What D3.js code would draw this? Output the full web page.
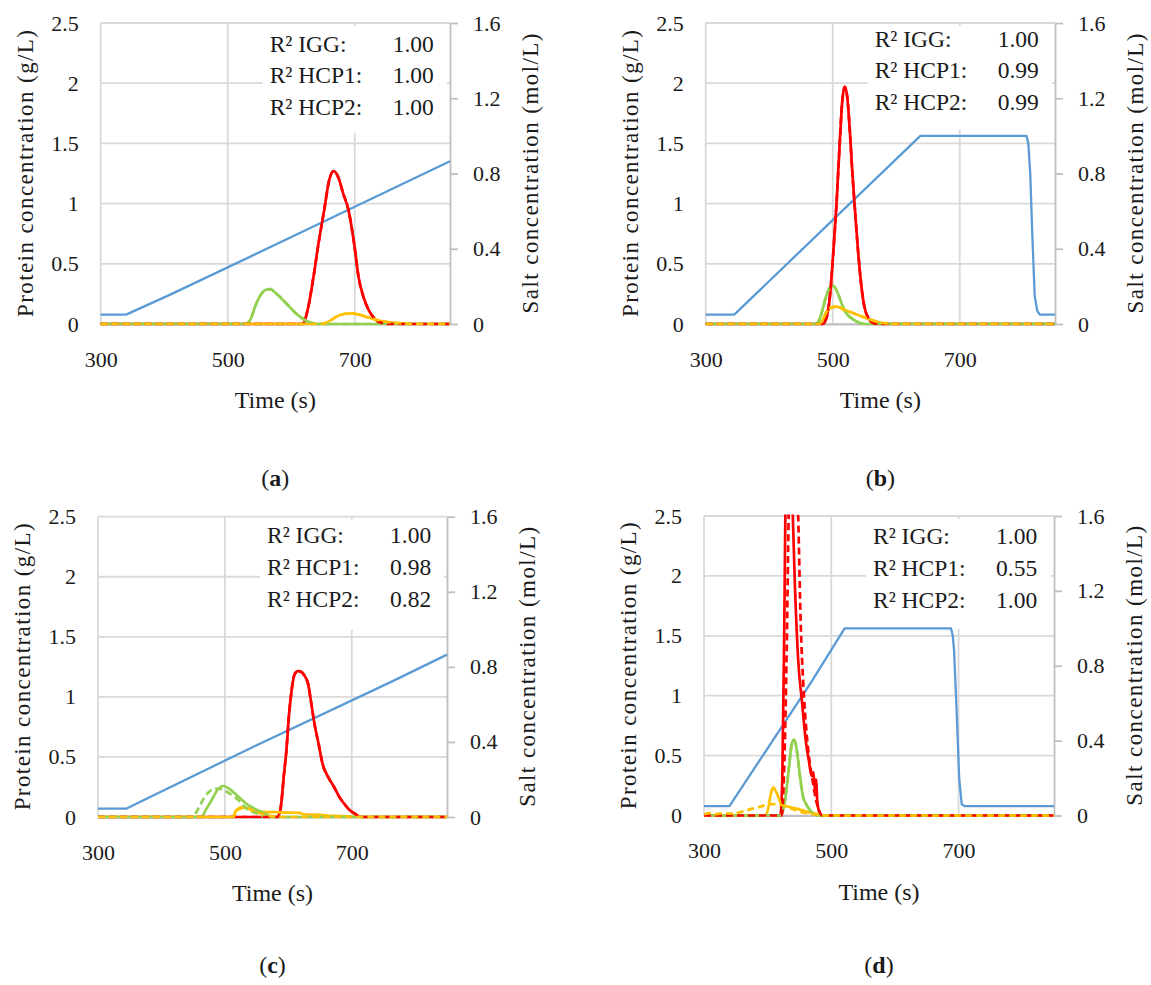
<!DOCTYPE html>
<html>
<head>
<meta charset="utf-8">
<script src="https://cdn.jsdelivr.net/npm/d3@7"></script>
<style>
  body { margin: 0; background: #fff; }
  #chart, #chart text { font-family: "Liberation Serif", "Tinos", "DejaVu Serif", serif; }
  #chart text { fill: #1a1a1a; }
</style>
</head>
<body>
<svg id="chart" width="1151" height="985" font-family="Liberation Serif, DejaVu Serif, serif"></svg>
<script>
// axes
const timeTicks = [300, 500, 700];
const proteinTicks = [0, 0.5, 1, 1.5, 2, 2.5];
const saltTicks = [0, 0.4, 0.8, 1.2, 1.6];
const r2Labels = ["R\u00b2 IGG:", "R\u00b2 HCP1:", "R\u00b2 HCP2:"];

// (a)
const r2A = ["1.00", "1.00", "1.00"];
const saltA = [[300,0.05],[340,0.05],[412,0.16],[630,0.51],[850,0.865]];
const iggA = [[300,0],[618,0],[626,0.12],[635,0.39],[643,0.67],[652,0.95],[660,1.2],[667,1.27],[674,1.22],[682,1.08],[690,0.95],[699,0.67],[706,0.39],[714,0.22],[722,0.116],[732,0.04],[742,0.01],[755,0],[850,0]];
const hcp1A = [[300,0],[528,0],[535,0.03],[545,0.17],[553,0.25],[560,0.285],[567,0.29],[575,0.26],[585,0.21],[596,0.15],[605,0.1],[614,0.06],[622,0.03],[632,0.01],[640,0],[850,0]];
const hcp2A = [[300,0],[645,0],[655,0.01],[665,0.04],[675,0.07],[685,0.085],[695,0.088],[705,0.08],[715,0.065],[725,0.048],[735,0.033],[745,0.022],[755,0.014],[770,0.007],[790,0],[850,0]];
const iggSimA = iggA, hcp1SimA = hcp1A, hcp2SimA = hcp2A;

// (b)
const r2B = ["1.00", "0.99", "0.99"];
const saltB = [[300,0.05],[345,0.05],[638,1.0],[805,1.0],[808,0.96],[811,0.8],[814,0.5],[818,0.15],[822,0.07],[826,0.05],[850,0.05]];
const iggB = [[300,0],[484,0],[490,0.05],[496,0.25],[501,0.6],[506,1.0],[511,1.5],[515,1.85],[519,1.97],[523,1.88],[527,1.6],[531,1.25],[535,0.95],[540,0.6],[545,0.32],[550,0.14],[556,0.05],[563,0.01],[570,0],[850,0]];
const hcp1B = [[300,0],[474,0],[480,0.05],[484,0.12],[488,0.2],[494,0.29],[500,0.318],[505,0.29],[510,0.23],[514,0.17],[520,0.1],[530,0.047],[540,0.015],[551,0],[850,0]];
const hcp2B = [[300,0],[478,0],[484,0.03],[490,0.1],[497,0.135],[505,0.144],[512,0.135],[519,0.116],[530,0.095],[540,0.075],[550,0.055],[561,0.033],[572,0.015],[582,0.006],[595,0],[850,0]];
const iggSimB = iggB, hcp1SimB = hcp1B, hcp2SimB = hcp2B;

// (c)
const r2C = ["1.00", "0.98", "0.82"];
const saltC = [[300,0.045],[345,0.045],[536,0.36],[762,0.72],[850,0.865]];
const iggC = [[300,0],[583,0],[588,0.08],[593,0.35],[597,0.56],[601,0.85],[605,1.05],[610,1.19],[615,1.215],[620,1.21],[625,1.18],[631,1.11],[636,0.95],[641,0.78],[648,0.6],[654,0.44],[663,0.33],[672,0.25],[680,0.17],[688,0.11],[696,0.06],[704,0.03],[714,0],[850,0]];
const hcp1C = [[300,0],[463,0],[470,0.06],[479,0.139],[489,0.23],[497,0.258],[504,0.245],[510,0.222],[518,0.185],[526,0.145],[534,0.11],[542,0.083],[550,0.06],[558,0.042],[566,0.02],[575,0],[850,0]];
const hcp1SimC = [[300,0],[449,0],[458,0.07],[468,0.166],[476,0.215],[484,0.236],[490,0.235],[497,0.228],[506,0.2],[516,0.166],[524,0.125],[531,0.083],[540,0.05],[552,0.028],[565,0],[850,0]];
const hcp2C = [[300,0],[512,0],[518,0.058],[524,0.078],[529,0.083],[535,0.075],[541,0.062],[547,0.048],[560,0.042],[580,0.04],[600,0.037],[618,0.034],[624,0.022],[640,0.02],[652,0.018],[665,0.01],[680,0.008],[693,0.006],[705,0],[850,0]];
const hcp2SimC = [[300,0],[513,0],[519,0.05],[525,0.072],[531,0.076],[538,0.068],[546,0.05],[555,0.032],[565,0.015],[578,0.004],[590,0],[850,0]];
const iggSimC = iggC;

// (d)
const r2D = ["1.00", "0.55", "1.00"];
const saltD = [[300,0.05],[340,0.05],[470,0.72],[521,1.0],[688,1.0],[691,0.96],[693,0.88],[697,0.56],[701,0.2],[705,0.06],[710,0.05],[850,0.05]];
const iggD = [[300,0],[420,0],[423,0.3],[426,1.5],[428,2.6],[432,3.6],[436,3.4],[439,2.6],[443,1.9],[448,1.3],[454,0.95],[460,0.62],[465,0.45],[469,0.33],[472,0.36],[474,0.22],[476,0.3],[478,0.12],[481,0.03],[484,0],[850,0]];
const iggSimD = [[300,0],[422,0],[426,0.4],[430,1.4],[433,2.5],[438,3.5],[443,3.2],[448,2.5],[452,1.6],[456,1.1],[461,0.7],[466,0.45],[471,0.28],[476,0.13],[481,0.04],[486,0],[850,0]];
const hcp1D = [[300,0],[421,0],[424,0.04],[428,0.15],[433,0.375],[438,0.6],[441,0.632],[444,0.6],[447,0.5],[451,0.32],[456,0.15],[460,0.1],[465,0.056],[471,0.02],[478,0],[850,0]];
const hcp2D = [[300,0],[397,0],[401,0.06],[404,0.153],[407,0.22],[409,0.236],[412,0.21],[415,0.18],[420,0.11],[425,0.083],[432,0.075],[440,0.065],[450,0.05],[460,0.035],[470,0.02],[480,0.008],[490,0],[850,0]];
const hcp2SimD = [[300,0.01],[310,0.02],[320,0.012],[330,0.018],[345,0.015],[355,0.025],[365,0.04],[375,0.055],[386,0.07],[396,0.085],[407,0.095],[416,0.092],[425,0.083],[438,0.056],[446,0.04],[454,0.028],[462,0.02],[470,0.014],[480,0.006],[491,0],[850,0]];
const hcp1SimD = hcp1D;

const colors = { salt: "#5b9bd5", igg: "#ff0000", hcp1: "#92d050", hcp2: "#ffc000" };

const panels = [
    { tag: "a", left: 100.7, top: 23, right: 450, bottom: 324, r2: r2A, textTop: 28.7, boxH: 107, capY: 486,
      salt: saltA, igg: iggA, iggSim: iggSimA, hcp1: hcp1A, hcp1Sim: hcp1SimA, hcp2: hcp2A, hcp2Sim: hcp2SimA },
    { tag: "b", left: 705.7, top: 23, right: 1055, bottom: 324, r2: r2B, textTop: 23.7, boxH: 104, capY: 486,
      salt: saltB, igg: iggB, iggSim: iggSimB, hcp1: hcp1B, hcp1Sim: hcp1SimB, hcp2: hcp2B, hcp2Sim: hcp2SimB },
    { tag: "c", left: 98, top: 516.7, right: 447, bottom: 817, r2: r2C, textTop: 26.6, boxH: 110, capY: 973,
      salt: saltC, igg: iggC, iggSim: iggSimC, hcp1: hcp1C, hcp1Sim: hcp1SimC, hcp2: hcp2C, hcp2Sim: hcp2SimC },
    { tag: "d", left: 704, top: 516, right: 1054, bottom: 815.5, r2: r2D, textTop: 28.3, boxH: 110, capY: 973,
      salt: saltD, igg: iggD, iggSim: iggSimD, hcp1: hcp1D, hcp1Sim: hcp1SimD, hcp2: hcp2D, hcp2Sim: hcp2SimD }
];

const svg = d3.select("#chart");
svg.append("rect").attr("width", 1151).attr("height", 985).attr("fill", "#fff");

function drawPanel(p, i)
{
    const x = d3.scaleLinear().domain([300, 850]).range([p.left, p.right]);
    const y = d3.scaleLinear().domain([0, 2.5]).range([p.bottom, p.top]);
    const y2 = d3.scaleLinear().domain([0, 1.6]).range([p.bottom, p.top]);
    const g = svg.append("g");

    const clipId = "clip-" + p.tag;
    g.append("clipPath").attr("id", clipId)
        .append("rect")
        .attr("x", p.left - 2).attr("y", p.top - 1.5)
        .attr("width", p.right - p.left + 4).attr("height", p.bottom - p.top + 3);

    // grid
    g.append("g").selectAll("line").data(proteinTicks).join("line")
        .attr("x1", p.left).attr("x2", p.right)
        .attr("y1", d => y(d)).attr("y2", d => y(d))
        .attr("stroke", "#d9d9d9").attr("stroke-width", 1.8);
    g.append("g").selectAll("line").data(timeTicks).join("line")
        .attr("x1", d => x(d)).attr("x2", d => x(d))
        .attr("y1", p.top).attr("y2", p.bottom)
        .attr("stroke", "#d9d9d9").attr("stroke-width", 1.8);

    // left axis labels
    const ax = g.append("g")
        .attr("transform", `translate(${p.left},0)`)
        .call(d3.axisLeft(y).tickValues(proteinTicks).tickSize(0).tickPadding(22).tickFormat(d => String(d)));
    ax.select(".domain").remove();

    // right (salt) axis
    const ax2 = g.append("g")
        .attr("transform", `translate(${p.right},0)`)
        .call(d3.axisRight(y2).tickValues(saltTicks).tickSize(8).tickSizeOuter(0).tickPadding(15)
            .tickFormat(d => d === 0 ? "0" : d3.format(".1f")(d)));
    ax2.select(".domain").attr("stroke", "#bfbfbf").attr("stroke-width", 1.8);
    ax2.selectAll(".tick line").attr("stroke", "#bfbfbf").attr("stroke-width", 1.8);

    // bottom axis
    const ax3 = g.append("g")
        .attr("transform", `translate(0,${p.bottom})`)
        .call(d3.axisBottom(x).tickValues(timeTicks).tickSize(0).tickPadding(27).tickFormat(d => String(d)));
    ax3.select(".domain").attr("stroke", "#bfbfbf").attr("stroke-width", 1.8);

    [ax, ax2, ax3].forEach(a => a.attr("font-family", null).attr("font-size", null)
        .selectAll("text").style("font-size", "22px").attr("fill", "#1a1a1a"));

    // axis titles
    const midY = (p.top + p.bottom) / 2;
    g.append("text")
        .attr("transform", `translate(${p.left - 75.7},${midY}) rotate(-90)`)
        .attr("text-anchor", "middle").attr("dy", "0.35em")
        .attr("textLength", 287).attr("lengthAdjust", "spacing")
        .style("font-size", "23px")
        .text("Protein concentration  (g/L)");
    g.append("text")
        .attr("transform", `translate(${p.right + 80},${midY}) rotate(-90)`)
        .attr("text-anchor", "middle").attr("dy", "0.35em")
        .attr("textLength", 280).attr("lengthAdjust", "spacing")
        .style("font-size", "23px")
        .text("Salt concentration  (mol/L)");
    g.append("text")
        .attr("x", (p.left + p.right) / 2).attr("y", p.bottom + 84)
        .attr("text-anchor", "middle")
        .style("font-size", "24px")
        .text("Time (s)");

    const cap = g.append("text")
        .attr("x", (p.left + p.right) / 2).attr("y", p.capY)
        .attr("text-anchor", "middle")
        .style("font-size", "24px");
    cap.append("tspan").text("(");
    cap.append("tspan").attr("font-weight", "bold").text(p.tag);
    cap.append("tspan").text(")");

    // R² box sits under the data lines
    const bx = p.left + 162;
    g.append("rect")
        .attr("x", bx).attr("y", p.top + 3)
        .attr("width", p.right - 3 - bx).attr("height", p.boxH)
        .attr("fill", "#fff");

    // data lines
    const smooth = (yy) => d3.line()
        .x(d => x(d[0])).y(d => yy(d[1]))
        .curve(d3.curveMonotoneX);
    const straight = (yy) => d3.line()
        .x(d => x(d[0])).y(d => yy(d[1]));
    const lines = g.append("g").attr("clip-path", `url(#${clipId})`).attr("fill", "none")
        .attr("stroke-linejoin", "round");

    lines.append("path").attr("d", straight(y2)(p.salt))
        .attr("stroke", colors.salt).attr("stroke-width", 2.3);

    const series = [
        { d: p.igg, c: colors.igg, dash: null },
        { d: p.hcp2, c: colors.hcp2, dash: null },
        { d: p.hcp1, c: colors.hcp1, dash: null },
        { d: p.hcp1Sim, c: colors.hcp1, dash: "7,4" },
        { d: p.iggSim, c: colors.igg, dash: "7,4" },
        { d: p.hcp2Sim, c: colors.hcp2, dash: "7,4" }
    ];
    for(const s of series)
    {
        lines.append("path").attr("d", smooth(y)(s.d))
            .attr("stroke", s.c).attr("stroke-width", 2.7)
            .attr("stroke-dasharray", s.dash);
    }

    const tb = g.append("g").style("font-size", "23.5px");
    r2Labels.forEach((lab, k) => {
        tb.append("text")
            .attr("x", p.left + 169).attr("y", p.top + p.textTop + k * 31.7)
            .text(lab);
        tb.append("text")
            .attr("x", p.left + 292).attr("y", p.top + p.textTop + k * 31.7)
            .text(p.r2[k]);
    });
}

panels.forEach(drawPanel);
</script>
</body>
</html>
